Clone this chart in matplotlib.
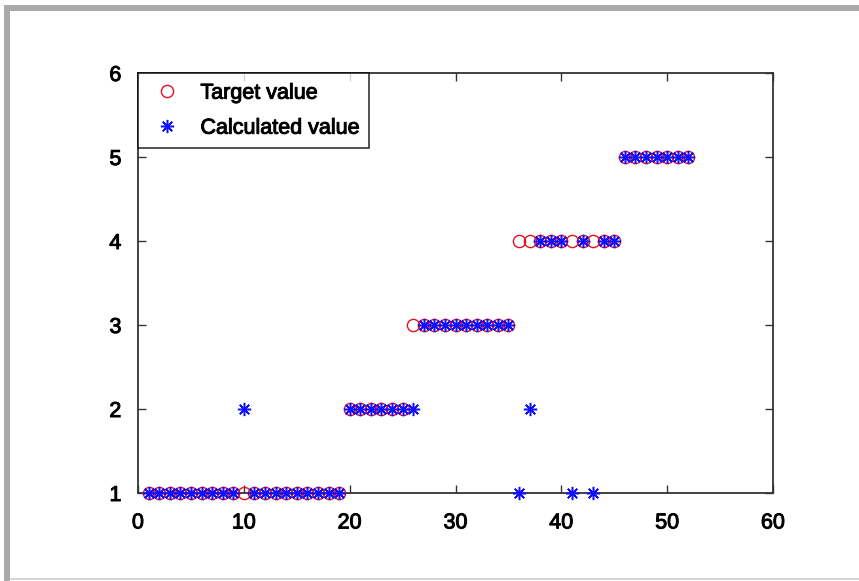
import matplotlib
matplotlib.use("Agg")
import matplotlib.pyplot as plt
import matplotlib.patheffects as pe
from matplotlib.patches import Rectangle

plt.rcParams['font.family'] = ['Liberation Sans', 'DejaVu Sans']

# Data
index = list(range(1, 53))
target = [1]*19 + [2]*6 + [3]*10 + [4]*10 + [5]*7
calculated = ([1]*9 + [2] + [1]*9 +        # 1..19
              [2]*6 + [2] +                # 20..26
              [3]*9 +                      # 27..35
              [1, 2, 4, 4, 4, 1, 4, 1, 4, 4] +  # 36..45
              [5]*7)                       # 46..52

x_ticks = [0, 10, 20, 30, 40, 50, 60]
y_ticks = [1, 2, 3, 4, 5, 6]
legend_labels = ['Target value', 'Calculated value']

W, H = 859, 581
fig = plt.figure(figsize=(W/100, H/100), dpi=100)
fig.patch.set_facecolor('white')

# Gray frame (screenshot border)
def px_rect(x0, y0, x1, y1, color):
    fig.patches.append(Rectangle((x0/W, 1 - y1/H), (x1-x0)/W, (y1-y0)/H,
                                 transform=fig.transFigure, color=color,
                                 zorder=0, linewidth=0))
px_rect(4, 5, 859, 11, '#a9a9a9')
px_rect(4, 5, 10, 581, '#a9a9a9')
px_rect(10, 578, 859, 580, '#d4d4d4')

ax = fig.add_axes([138/W, 1 - 493/H, (773-138)/W, (493-73)/H])
ax.set_facecolor('white')

ax.plot(index, target, linestyle='none', marker='o', markersize=8.8,
        markerfacecolor='none', markeredgecolor='#e0141e', markeredgewidth=1.0,
        label=legend_labels[0], clip_on=False, zorder=3)
ax.plot(index, calculated, linestyle='none', marker=(8, 2, 0), markersize=9.5,
        markeredgecolor='#1010ff', color='#1010ff', markeredgewidth=1.1,
        label=legend_labels[1], clip_on=False, zorder=4)

ax.set_xlim(0, 60)
ax.set_ylim(1, 6)
ax.set_xticks(x_ticks)
ax.set_yticks(y_ticks)
ax.tick_params(direction='in', length=6, width=1, top=True, right=True,
               labelsize=15.5, colors='#333333', labelcolor='black')
ax.tick_params(axis='x', pad=14)
ax.tick_params(axis='y', pad=12)
for s in ax.spines.values():
    s.set_linewidth(1.3)
    s.set_color('#333333')

leg = ax.legend(loc='upper left', borderaxespad=0, fontsize=15.5,
                frameon=True, fancybox=False, edgecolor='black',
                handlelength=1.8, handletextpad=0.65, borderpad=0.45,
                labelspacing=0.65)
leg.get_frame().set_linewidth(1.2)

thick = [pe.withStroke(linewidth=0.7, foreground='black')]
for t in ax.get_xticklabels() + ax.get_yticklabels() + leg.get_texts():
    t.set_path_effects(thick)

fig.savefig('out.png', dpi=100)
